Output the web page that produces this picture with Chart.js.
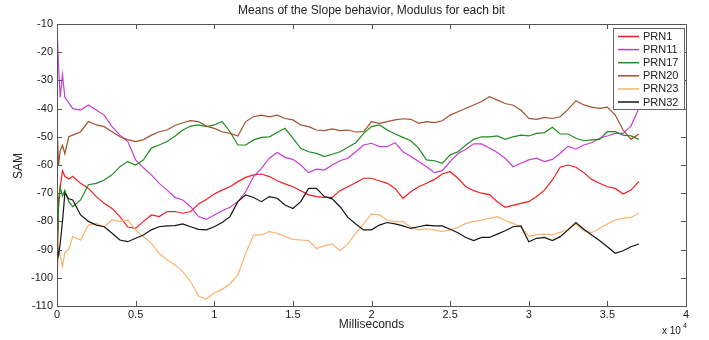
<!DOCTYPE html>
<html><head><meta charset="utf-8">
<script src="https://cdn.jsdelivr.net/npm/chart.js@4.4.1/dist/chart.umd.min.js"></script>
<style>html,body{margin:0;padding:0;background:#fff;}#wrap{width:709px;height:340px;}</style>
</head><body><div id="wrap"><canvas id="c" width="709" height="340"></canvas></div>
<script>
// x values in milliseconds
const timeMs = [0,100,200,350,500,750,
 1000,1500,2000,2500,3000,3500,4000,4500,5000,5500,6000,6500,7000,7500,
 8000,8500,9000,9500,10000,10500,11000,11500,12000,12500,13000,13500,14000,14500,15000,15500,16000,16500,17000,17500,
 18000,18500,19000,19500,20000,20500,21000,21500,22000,22500,23000,23500,24000,24500,25000,25500,26000,26500,27000,27500,
 28000,28500,29000,29500,30000,30500,31000,31500,32000,32500,33000,33500,34000,34500,35000,35500,36000,36500,37000];

const seriesNames = ["PRN1","PRN11","PRN17","PRN20","PRN23","PRN32"];
const seriesColors = ["#f01e1e","#c83cd2","#1e8c1e","#a0522d","#f8b46e","#141414"];

const prn1 = [-109,-72,-68,-62,-64,-65,
 -64,-66.5,-68.3,-71.2,-73.6,-75.4,-78.3,-82,-82.5,-80,-77.7,-78.3,-76.5,-76.5,
 -77.1,-76.5,-73.8,-72.2,-70.3,-68.9,-67.7,-65.9,-64.4,-63.5,-63.2,-64.1,-65.6,-66.7,-67.7,-69.1,-70.6,-71.2,-71.5,-71.5,
 -69.1,-67.7,-66.3,-64.7,-64.7,-65.6,-66.5,-68.3,-71.8,-69.5,-67.7,-66.5,-65.1,-63.2,-62.4,-64.7,-67.7,-69.1,-70,-70.5,
 -73,-75,-74.3,-73.6,-73,-71.2,-68.9,-65.3,-60.8,-60,-60.8,-62.7,-65.1,-66.5,-67.7,-68.3,-70.3,-68.9,-65.9];
const prn11 = [-11,-25,-36,-28,-36,-38,
 -40,-40.5,-38.7,-40.5,-42.3,-46.4,-49.4,-51.7,-58.2,-61,-63.5,-66.5,-68.9,-71.5,
 -72.4,-74.8,-78.3,-79.3,-77.7,-76.2,-75,-73,-69.5,-64.1,-61.2,-57.6,-55.6,-57.3,-58,-60,-62.7,-61.5,-61.8,-60,
 -58.5,-57.6,-55.3,-52.9,-52.3,-53.5,-53.5,-52.1,-55.3,-57,-58.8,-60.6,-62.7,-62,-58.8,-55.9,-54.4,-52.5,-52.5,-54,
 -55.6,-57.6,-60.6,-59.4,-58.2,-57.6,-58.8,-58,-55.9,-53.3,-54.4,-52.9,-52.1,-50.5,-49.7,-48.8,-48.8,-46.2,-40];
const prn17 = [-98,-75,-68,-71,-69,-73,
 -74.8,-72.4,-67,-66.5,-65.3,-63.5,-60.6,-58.8,-60,-58.2,-54,-52.9,-51.7,-49.8,
 -47.6,-46.2,-45.8,-46.4,-45.8,-44.6,-48.2,-52.9,-52.9,-51.1,-50.2,-50,-48.5,-47,-50.5,-54.1,-55.3,-55.9,-57,-56.2,
 -55.3,-53.7,-52.1,-48.8,-46.4,-45.8,-47.6,-49,-50.2,-51.4,-54.1,-58.2,-58.5,-59.4,-56.4,-55.3,-52.9,-50.9,-50,-50,
 -49.7,-50.9,-50,-49.4,-49.7,-48.8,-48.5,-46.6,-49,-49,-50.5,-51.4,-51.1,-50.9,-48.2,-48.2,-49.4,-49.7,-50.9];
const prn20 = [-45,-60,-55,-53,-56,-50,
 -49.4,-48.2,-44.6,-45.8,-46.4,-48.2,-50,-51,-51.7,-51,-49.4,-48.2,-47.6,-46,
 -45,-44.3,-44.6,-46.2,-47,-48.2,-48.8,-49.7,-44.6,-42.9,-42.3,-42.9,-42.3,-43.5,-44,-45.8,-46.4,-47.6,-47.8,-47.2,
 -47.8,-47.6,-48.3,-48.2,-44.6,-45.2,-44.6,-44,-43.6,-43.8,-45.2,-44.6,-45,-44.3,-42.3,-41.1,-39.9,-38.7,-37.5,-35.8,
 -37,-38.2,-38.8,-40.5,-43.5,-43.8,-43.1,-43.5,-42.9,-40.3,-37.2,-38.7,-39.5,-39.9,-39.5,-42.3,-47.6,-50.9,-49];
const prn23 = [-80,-88,-92,-96,-91,-90,
 -85.4,-86.6,-81.3,-80.7,-81.9,-79.5,-80,-79.5,-83,-85.4,-87.8,-91.3,-93.7,-95.5,
 -97.8,-101.4,-106.5,-107.5,-105.3,-104.1,-102.2,-99,-91.3,-84.8,-84.8,-83.6,-84.2,-85.4,-86.4,-86.6,-86.8,-89.6,-88.7,-88,
 -90.4,-88,-84.2,-80.9,-77.4,-77.7,-79.5,-80.1,-80.1,-82.1,-83,-82.6,-83,-83.5,-83,-82.1,-80.7,-80,-79.5,-78.9,
 -78.3,-79.7,-80.7,-81.9,-85.2,-84.8,-84.5,-84.8,-83.9,-82.8,-80.9,-83.3,-84,-82.5,-80.9,-79.5,-78.9,-78.6,-77.1];
const prn32 = [-88,-92,-88,-80,-70,-72,
 -72.4,-77.7,-80,-81.3,-81.9,-84.2,-86.6,-87.2,-86,-84.8,-83,-81.9,-81.6,-81.5,
 -80.9,-81.9,-82.8,-83,-81.9,-80.4,-78.3,-73,-70.6,-71.5,-73,-71.2,-71.8,-74.2,-75.4,-73,-68.3,-68.3,-71.2,-72,
 -74.8,-78.6,-80.9,-83,-83,-81.3,-80.4,-80.9,-81.6,-82.5,-81.9,-81.3,-81.6,-81.6,-82.8,-84,-85.7,-86.8,-85.7,-85.7,
 -84.5,-83.3,-81.9,-81.6,-87.2,-86,-85.7,-86.8,-85.4,-83,-80.4,-82.8,-84.8,-86.8,-89,-91.3,-90.4,-89,-88];

const xTickValues = [0,5000,10000,15000,20000,25000,30000,35000,40000];
const yTickValues = [-10,-20,-30,-40,-50,-60,-70,-80,-90,-100,-110];

const titleText = "Means of the Slope behavior, Modulus for each bit";
const xTitle = "Milliseconds";
const yTitle = "SAM";

const allSeries = [prn1, prn11, prn17, prn20, prn23, prn32];
const FONT = "'Liberation Sans', Arial, sans-serif";

const datasets = allSeries.map((vals, i) => ({
  label: seriesNames[i],
  data: timeMs.map((t, j) => ({x: t, y: vals[j]})),
  borderColor: seriesColors[i],
  backgroundColor: seriesColors[i],
  borderWidth: 1.2,
  pointRadius: 0,
  tension: 0,
  fill: false,
  order: allSeries.length - i
}));

const decor = {
  id: 'decor',
  afterDatasetsDraw(chart) {
    const ctx = chart.ctx, a = chart.chartArea;
    const xs = chart.scales.x, ys = chart.scales.y;
    ctx.save();
    ctx.strokeStyle = '#555';
    ctx.lineWidth = 1;
    ctx.strokeRect(Math.round(a.left) + 0.5, Math.round(a.top) + 0.5, Math.round(a.right - a.left), Math.round(a.bottom - a.top));
    ctx.beginPath();
    xTickValues.forEach(v => {
      const px = Math.round(xs.getPixelForValue(v)) + 0.5;
      ctx.moveTo(px, a.bottom); ctx.lineTo(px, a.bottom - 5);
      ctx.moveTo(px, a.top); ctx.lineTo(px, a.top + 5);
    });
    yTickValues.forEach(v => {
      const py = Math.round(ys.getPixelForValue(v)) + 0.5;
      ctx.moveTo(a.left, py); ctx.lineTo(a.left + 5, py);
      ctx.moveTo(a.right, py); ctx.lineTo(a.right - 5, py);
    });
    ctx.stroke();

    // legend
    const lx = 613, ly = 28, lw = 71, lh = 81;
    ctx.fillStyle = '#fff';
    ctx.fillRect(lx, ly, lw, lh);
    ctx.strokeStyle = '#666';
    ctx.strokeRect(lx + 0.5, ly + 0.5, lw, lh);
    ctx.font = "11px " + FONT;
    ctx.textBaseline = 'middle';
    ctx.textAlign = 'left';
    chart.data.datasets.forEach((ds, i) => {
      const y = ly + 8.5 + i * 13.1;
      ctx.strokeStyle = ds.borderColor;
      ctx.lineWidth = 1.5;
      ctx.beginPath(); ctx.moveTo(lx + 5, y); ctx.lineTo(lx + 26, y); ctx.stroke();
      ctx.fillStyle = '#222';
      ctx.fillText(ds.label, lx + 30, y + 0.5);
    });

    // titles
    ctx.fillStyle = '#222';
    ctx.font = "12px " + FONT;
    ctx.textAlign = 'center';
    ctx.fillText(titleText, (a.left + a.right) / 2, 11);
    ctx.font = "12px " + FONT;
    ctx.fillText(xTitle, (a.left + a.right) / 2, 325);
    ctx.save();
    ctx.translate(19, 166);
    ctx.rotate(-Math.PI / 2);
    ctx.fillText(yTitle, 0, 0);
    ctx.restore();
    ctx.font = "10px " + FONT;
    ctx.textAlign = 'left';
    ctx.fillText("x 10", 662, 331);
    ctx.font = "7px " + FONT;
    ctx.fillText("4", 683, 326);
    ctx.restore();
  }
};

new Chart(document.getElementById('c'), {
  type: 'line',
  data: { datasets },
  options: {
    responsive: false,
    animation: false,
    devicePixelRatio: 1,
    layout: { padding: { top: 24, right: 23, left: 0, bottom: 0 } },
    plugins: { legend: { display: false }, title: { display: false }, tooltip: { enabled: false } },
    scales: {
      x: {
        type: 'linear', min: 0, max: 40000,
        afterFit(s) { s.height = 34; },
        afterBuildTicks(s) { s.ticks = xTickValues.map(v => ({value: v})); },
        grid: { display: false, drawTicks: false },
        border: { display: false },
        ticks: { padding: 2, color: '#222', font: { family: FONT, size: 11 }, maxRotation: 0,
          callback: v => String(v / 10000) }
      },
      y: {
        type: 'linear', min: -110, max: -10,
        afterFit(s) { s.width = 57; },
        afterBuildTicks(s) { s.ticks = yTickValues.map(v => ({value: v})); },
        grid: { display: false, drawTicks: false },
        border: { display: false },
        ticks: { padding: 4, color: '#222', font: { family: FONT, size: 11 } }
      }
    }
  },
  plugins: [decor]
});
</script></body></html>
